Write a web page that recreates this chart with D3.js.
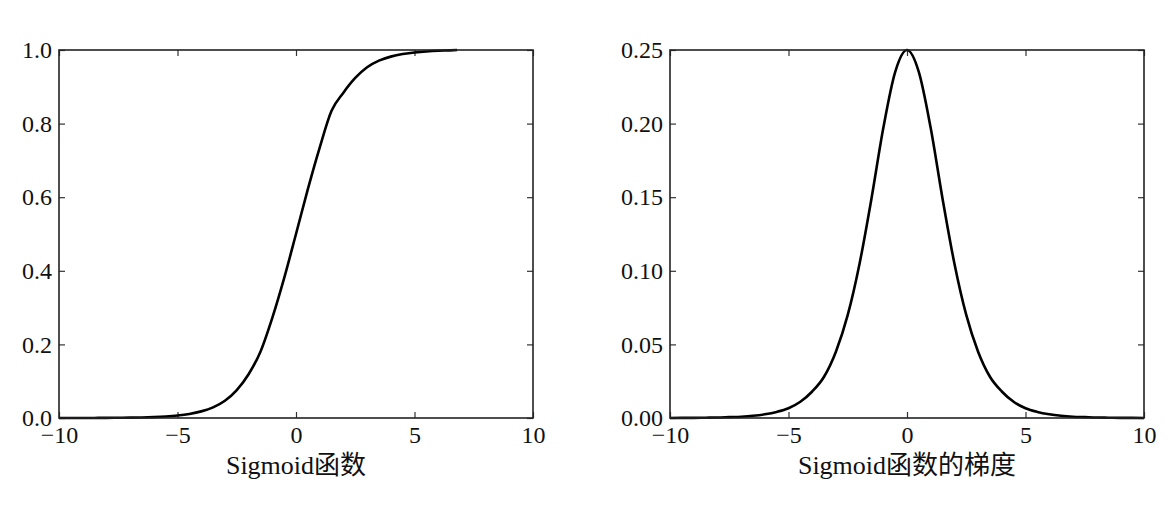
<!DOCTYPE html>
<html>
<head>
<meta charset="utf-8">
<script src="https://cdn.jsdelivr.net/npm/d3@7"></script>
<style>
  body { margin: 0; background: #fff; }
  svg { display: block; }
</style>
</head>
<body>
<svg id="chart" width="1175" height="519"></svg>
<script>
// values
var sigX = [-10, -9.5, -9, -8.5, -8, -7.5, -7, -6.5, -6, -5.5, -5, -4.5, -4, -3.5, -3, -2.5, -2, -1.5,
            -1, -0.5, 0, 0.5, 1, 1.5, 2, 2.5, 3, 3.5, 4, 4.5, 5, 5.5, 6, 6.5, 6.8];
var sigY = [0.0000, 0.0001, 0.0001, 0.0002, 0.0003, 0.0006, 0.0009, 0.0015, 0.0025, 0.0041, 0.0067, 0.011,
            0.018, 0.029, 0.047, 0.076, 0.119, 0.180, 0.272, 0.380, 0.500, 0.622, 0.735, 0.835, 0.884,
            0.924, 0.953, 0.971, 0.982, 0.989, 0.993, 0.996, 0.998, 0.999, 1.000];

var gradX = [-10, -9.5, -9, -8.5, -8, -7.5, -7, -6.5, -6, -5.5, -5, -4.5, -4, -3.5, -3, -2.5, -2, -1.5,
             -1, -0.5, 0, 0.5, 1, 1.5, 2, 2.5, 3, 3.5, 4, 4.5, 5, 5.5, 6, 6.5, 7, 7.5, 8, 8.5, 9, 9.5, 10];
var gradY = [0.0000, 0.0001, 0.0001, 0.0002, 0.0003, 0.0006, 0.0009, 0.0015, 0.0025, 0.0041, 0.0066, 0.011,
             0.018, 0.028, 0.045, 0.070, 0.105, 0.149, 0.197, 0.235, 0.250, 0.235, 0.197, 0.149, 0.105,
             0.070, 0.045, 0.028, 0.018, 0.011, 0.0066, 0.0041, 0.0025, 0.0015, 0.0009, 0.0006, 0.0003,
             0.0002, 0.0001, 0.0001, 0.0000];

var xTicks = [-10, -5, 0, 5, 10];
var sigYTicks = [0.0, 0.2, 0.4, 0.6, 0.8, 1.0];
var gradYTicks = [0.00, 0.05, 0.10, 0.15, 0.20, 0.25];

var FONT = "'Liberation Serif', 'Times New Roman', 'DejaVu Serif', 'Noto Sans CJK SC', serif";

var svg = d3.select("#chart");
svg.append("rect").attr("width", 1175).attr("height", 519).attr("fill", "#fff");

var TOP = 50, BOTTOM = 418;

function draw_panel(left, right, xs, ys, yMax, yTicks, yFmt, title) {
    var x = d3.scaleLinear().domain([-10, 10]).range([left, right]);
    var y = d3.scaleLinear().domain([0, yMax]).range([BOTTOM, TOP]);
    var g = svg.append("g");

    g.append("g")
        .attr("transform", "translate(0," + BOTTOM + ")")
        .call(d3.axisBottom(x).tickValues(xTicks).tickSize(-6).tickPadding(8).tickFormat(d3.format("d")));
    g.append("g")
        .attr("transform", "translate(0," + TOP + ")")
        .call(d3.axisTop(x).tickValues(xTicks).tickSize(-6).tickFormat(""));
    g.append("g")
        .attr("transform", "translate(" + left + ",0)")
        .call(d3.axisLeft(y).tickValues(yTicks).tickSize(-6).tickPadding(7).tickFormat(d3.format(yFmt)));
    g.append("g")
        .attr("transform", "translate(" + right + ",0)")
        .call(d3.axisRight(y).tickValues(yTicks).tickSize(-6).tickFormat(""));

    g.selectAll(".domain").remove();
    g.selectAll(".tick line").attr("stroke", "#333").attr("stroke-width", 1.2);
    g.selectAll(".tick text")
        .style("font-family", FONT)
        .style("font-size", "24px")
        .attr("fill", "#111");

    var pts = xs.map(function(v, i) { return [v, ys[i]]; });
    g.append("path")
        .datum(pts)
        .attr("fill", "none")
        .attr("stroke", "#000")
        .attr("stroke-width", 2.6)
        .attr("stroke-linejoin", "round")
        .attr("d", d3.line()
            .curve(d3.curveMonotoneX)
            .x(function(d) { return x(d[0]); })
            .y(function(d) { return y(d[1]); }));

    g.append("rect")
        .attr("x", left).attr("y", TOP)
        .attr("width", right - left).attr("height", BOTTOM - TOP)
        .attr("fill", "none").attr("stroke", "#222").attr("stroke-width", 1.6);

    g.append("text")
        .attr("x", (left + right) / 2)
        .attr("y", 474)
        .attr("text-anchor", "middle")
        .style("font-family", FONT)
        .style("font-size", "26px")
        .attr("fill", "#111")
        .text(title);
}

draw_panel(59, 533, sigX, sigY, 1.0, sigYTicks, ".1f", "Sigmoid函数");
draw_panel(670, 1144, gradX, gradY, 0.25, gradYTicks, ".2f", "Sigmoid函数的梯度");
</script>
</body>
</html>
